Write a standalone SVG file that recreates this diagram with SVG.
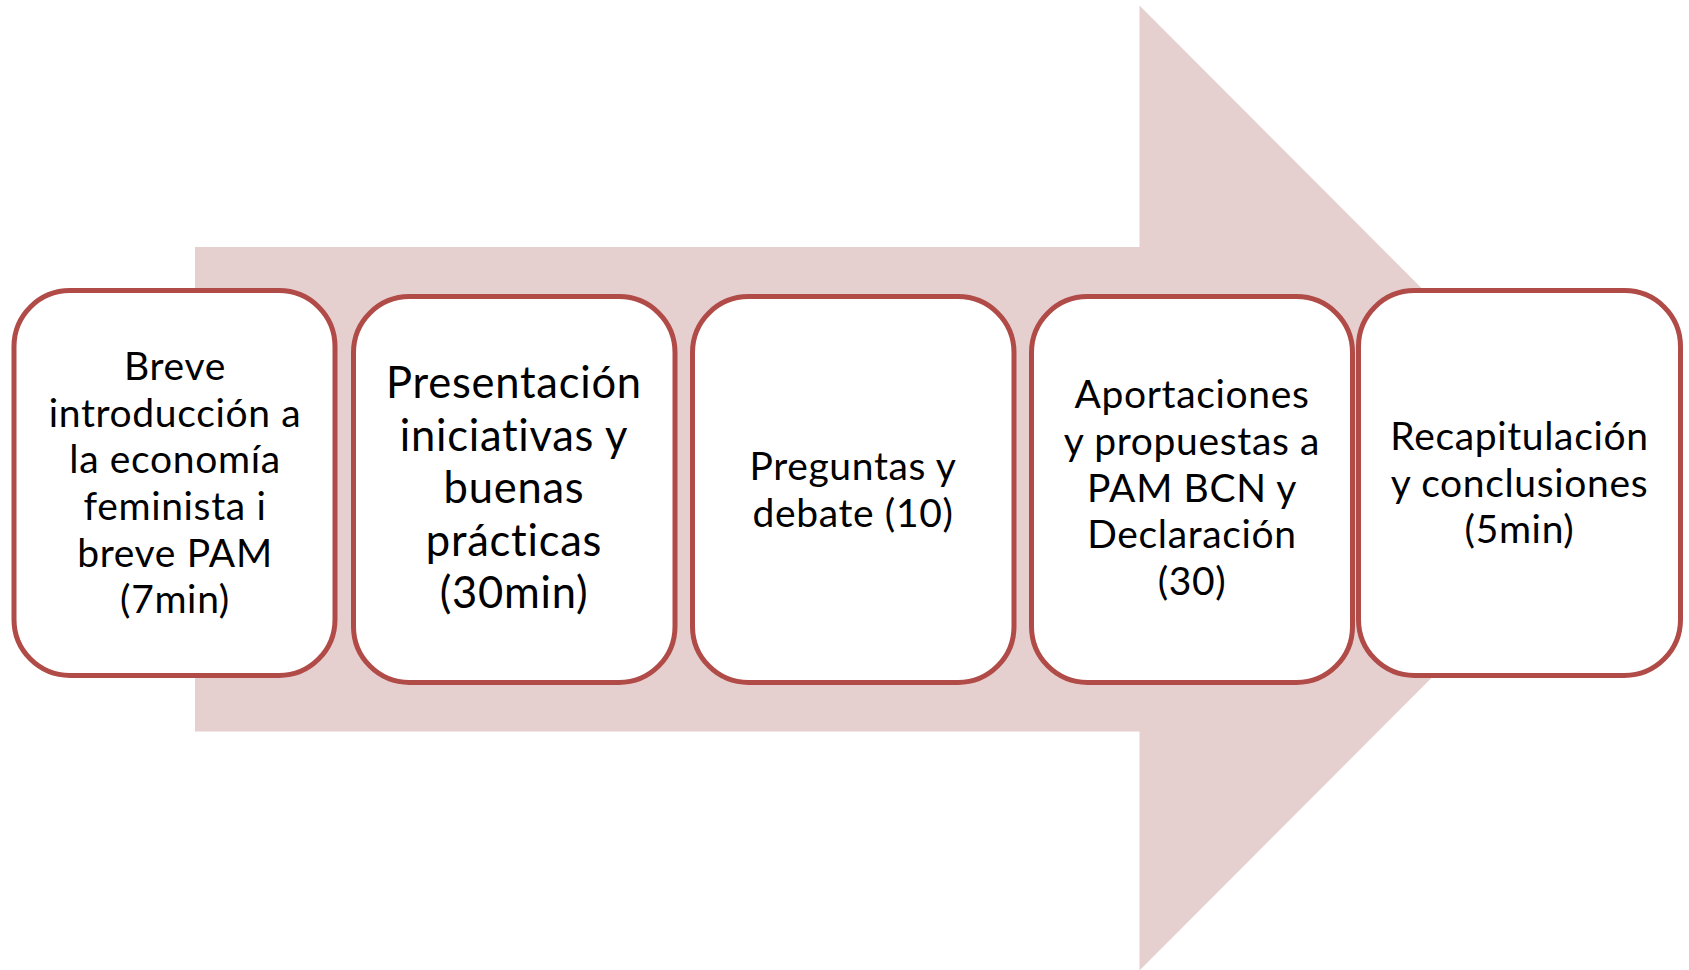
<svg xmlns="http://www.w3.org/2000/svg" width="1689" height="970" viewBox="0 0 1689 970">
<style>
.box{fill:#FFFFFF;stroke:#B04B48;stroke-width:5}
.t{font-family:Lato,"Open Sans","DejaVu Sans",sans-serif;font-size:39px;letter-spacing:0.65px;fill:#000000;text-anchor:middle}
.tb{font-size:43.5px;letter-spacing:0.75px}
</style>
<rect width="1689" height="970" fill="#FFFFFF"/>
<g id="arrow">
<polygon points="195,247 1139.5,247 1139.5,5.5 1621,488 1139.5,970.5 1139.5,731.5 195,731.5" fill="#E6CFCF"/>
</g>
<g id="connectors"></g>
<g id="node1">
<rect class="box" x="14" y="290.5" width="321" height="385" rx="56" ry="56"/>
<text class="t" x="175" y="380">Breve</text>
<text class="t" x="175" y="426.7">introducción a</text>
<text class="t" x="175" y="473.3">la economía</text>
<text class="t" x="175" y="520">feminista i</text>
<text class="t" x="175" y="566.7">breve PAM</text>
<text class="t" x="175" y="613.3">(7min)</text>
</g>
<g id="node2">
<rect class="box" x="353.5" y="296.5" width="321.5" height="386" rx="56" ry="56"/>
<text class="t tb" x="514" y="398.3">Presentación</text>
<text class="t tb" x="514" y="450.5">iniciativas y</text>
<text class="t tb" x="514" y="503">buenas</text>
<text class="t tb" x="514" y="555.5">prácticas</text>
<text class="t tb" x="514" y="608">(30min)</text>
</g>
<g id="node3">
<rect class="box" x="692.5" y="296.5" width="321.5" height="386" rx="56" ry="56"/>
<text class="t" x="853" y="480">Preguntas y</text>
<text class="t" x="853" y="526.7">debate (10)</text>
</g>
<g id="node4">
<rect class="box" x="1031.5" y="296.5" width="321" height="386" rx="56" ry="56"/>
<text class="t" x="1192" y="408.3">Aportaciones</text>
<text class="t" x="1192" y="455">y propuestas a</text>
<text class="t" x="1192" y="501.7">PAM BCN y</text>
<text class="t" x="1192" y="548.3">Declaración</text>
<text class="t" x="1192" y="595">(30)</text>
</g>
<g id="node5">
<rect class="box" x="1358.5" y="290.5" width="322" height="385" rx="56" ry="56"/>
<text class="t" x="1519.5" y="450">Recapitulación</text>
<text class="t" x="1519.5" y="496.7">y conclusiones</text>
<text class="t" x="1519.5" y="543.3">(5min)</text>
</g>
</svg>
